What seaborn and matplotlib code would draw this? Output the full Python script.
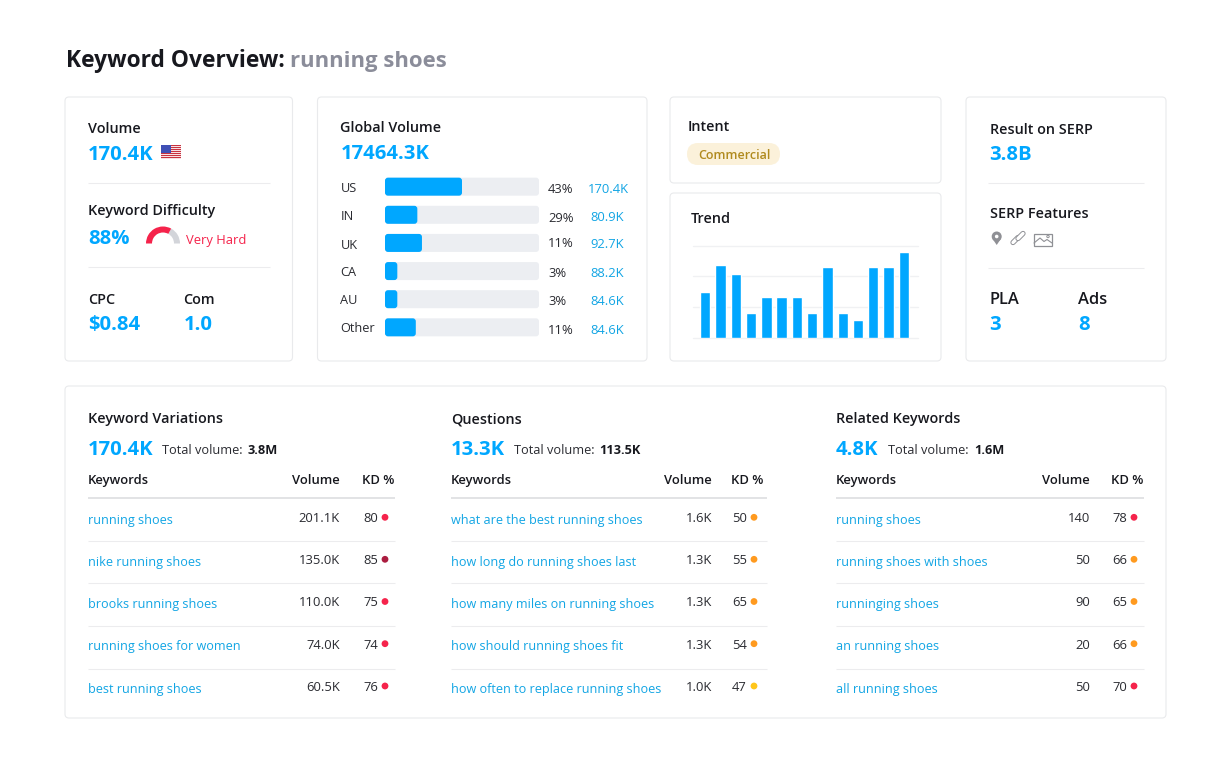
import matplotlib
matplotlib.use('Agg')
import matplotlib.pyplot as plt
from matplotlib.patches import FancyBboxPatch, Wedge, Rectangle, Circle, Polygon
import seaborn as sns
import pandas as pd

sns.set_theme(style='white')
plt.rcParams['font.family'] = ['Open Sans', 'DejaVu Sans']

# data
countries = ['US', 'IN', 'UK', 'CA', 'AU', 'Other']
country_fill = [50, 21, 24, 8, 8, 20]
country_track = [100, 100, 100, 100, 100, 100]
country_share = ['43%', '29%', '11%', '3%', '3%', '11%']
country_volume = ['170.4K', '80.9K', '92.7K', '88.2K', '84.6K', '84.6K']

trend_months = list(range(14))
trend_values = [50, 79, 69, 27, 44, 44, 44, 27, 77, 27, 19, 77, 77, 93]
trend_ticks = [0, 33.3, 66.6, 100]

gauge_fill = 66

var_keywords = ['running shoes', 'nike running shoes', 'brooks running shoes', 'running shoes for women', 'best running shoes']
var_volume = ['201.1K', '135.0K', '110.0K', '74.0K', '60.5K']
var_kd = [80, 85, 75, 74, 76]
q_keywords = ['what are the best running shoes', 'how long do running shoes last', 'how many miles on running shoes',
              'how should running shoes fit', 'how often to replace running shoes']
q_volume = ['1.6K', '1.3K', '1.3K', '1.3K', '1.0K']
q_kd = [50, 55, 65, 54, 47]
rel_keywords = ['running shoes', 'running shoes with shoes', 'runninging shoes', 'an running shoes', 'all running shoes']
rel_volume = ['140', '50', '90', '20', '50']
rel_kd = [78, 66, 65, 66, 70]

BLUE = '#00a7ff'
LINK = '#12a5e4'
DARK = '#17181e'
BODY = '#2a2b31'
LINE = '#ececee'


def px(size):
    return size * 0.72


def kd_color(kd):
    if kd >= 85:
        return '#ab1d40'
    if kd >= 70:
        return '#f5234b'
    if kd >= 50:
        return '#ff9a1f'
    return '#ffc61a'


fig = plt.figure(figsize=(12.18, 7.6), dpi=100, facecolor='white')
bg = fig.add_axes([0, 0, 1, 1])
bg.set_xlim(0, 1218)
bg.set_ylim(760, 0)
bg.axis('off')


def txt(x, y, s, size=14, color=BODY, weight='normal', ha='left'):
    # y is the middle of the capitals, baseline alignment keeps rows level
    return bg.text(x, y + 0.35 * size + 0.3, s, fontsize=px(size), color=color, fontweight=weight, ha=ha, va='baseline')


def card(x0, y0, x1, y1):
    bg.add_patch(FancyBboxPatch((x0 + 4, y0 + 4), x1 - x0 - 8, y1 - y0 - 8, boxstyle='round,pad=4,rounding_size=4',
                                fc='white', ec='#e9eaec', lw=0.8))


def hline(x0, x1, y, color=LINE, lw=0.75):
    bg.plot([x0, x1], [y, y], color=color, lw=lw, solid_capstyle='butt')


def inset(x0, y0, x1, y1):
    ax = fig.add_axes([x0 / 1218, 1 - y1 / 760, (x1 - x0) / 1218, (y1 - y0) / 760])
    ax.patch.set_alpha(0)
    return ax


def round_bars(ax, patches, color, x_scale, y_scale, radius):
    # swap seaborn's square bars for rounded ones, same extents
    for p in patches:
        x, y, w, h = p.get_x(), p.get_y(), p.get_width(), p.get_height()
        p.set_visible(False)
        r = radius / x_scale
        ax.add_patch(FancyBboxPatch((x + r, y + radius / y_scale), w - 2 * r, h - 2 * radius / y_scale,
                                    boxstyle=f'round,pad={r},rounding_size={r}',
                                    mutation_aspect=x_scale / y_scale, fc=color, ec='none'))


# title
txt(65.5, 59, 'Keyword Overview:', 22.7, DARK, 'bold')
txt(290, 59, 'running shoes', 22.2, '#8b8d9a', 'bold')

# cards
card(65, 97, 292.5, 361)
card(317.5, 97, 647, 361)
card(670, 97, 941, 183)
card(670, 193, 941, 361)
card(966, 97, 1166, 361)
card(65, 386, 1166, 718)

# first card
txt(88, 128, 'Volume', 14.4, DARK, 'semibold')
txt(88, 153, '170.4K', 20.3, BLUE, 'bold')
for i in range(7):
    bg.add_patch(Rectangle((161, 145 + i * 2), 20, 1, fc='#c8323f', ec='none'))
    bg.add_patch(Rectangle((161, 146 + i * 2), 20, 1, fc='#f8dfe2', ec='none'))
bg.add_patch(Rectangle((161, 145), 9.5, 7.5, fc='#3f4fb5', ec='none'))
hline(87.5, 270, 182.5)
txt(88, 210, 'Keyword Difficulty', 14.4, DARK, 'semibold')
txt(88, 237, '88%', 20.3, BLUE, 'bold')
split = 180 + 180 * gauge_fill / 100
bg.add_patch(Wedge((163, 243.5), 17, split, 360, width=6, fc='#d3d5da', ec='none'))
bg.add_patch(Wedge((163, 243.5), 17, 180, split, width=6, fc='#f5234b', ec='none'))
txt(186, 239, 'Very Hard', 13, '#f5234b')
hline(87.5, 270, 266.5)
txt(88, 299, 'CPC', 14.4, DARK, 'semibold')
txt(183.5, 299, 'Com', 14.4, DARK, 'semibold')
txt(88, 323, '$0.84', 20.3, BLUE, 'bold')
txt(183.5, 323, '1.0', 20.3, BLUE, 'bold')

# global volume
txt(340.5, 127, 'Global Volume', 14.4, DARK, 'semibold')
txt(340.5, 152, '17464.3K', 20.3, BLUE, 'bold')
ax = inset(385, 172.6, 539, 341.4)
df = pd.DataFrame({'country': countries, 'fill': country_fill, 'track': country_track})
sns.barplot(data=df, y='country', x='track', color='#eceef2', width=18 / 28.13, saturation=1, ax=ax)
n_track = len(ax.patches)
sns.barplot(data=df, y='country', x='fill', color=BLUE, width=18 / 28.13, saturation=1, ax=ax)
bars = list(ax.patches)
round_bars(ax, bars[:n_track], '#eceef2', 1.54, 28.13, 3)
round_bars(ax, bars[n_track:], BLUE, 1.54, 28.13, 3)
ax.set_xlim(0, 100)
ax.axis('off')
label_y = [187.7, 215, 244, 271.7, 299.7, 327.7]
share_y = [188.3, 216.7, 242.3, 271.7, 300, 329]
vol_y = [187.7, 216.3, 242.7, 271.7, 299.7, 328.7]
for i in range(len(countries)):
    txt(340.5, label_y[i], countries[i], 12.8)
    txt(548, share_y[i], country_share[i], 13)
    txt(628.7 if i == 0 else 623.7, vol_y[i], country_volume[i], 13, LINK, ha='right')

# intent
txt(687.5, 126, 'Intent', 14.4, DARK, 'semibold')
bg.add_patch(FancyBboxPatch((687, 143), 93, 22, boxstyle='round,pad=0,rounding_size=11', fc='#fbf1da', ec='none'))
txt(698, 154, 'Commercial', 12.5, '#b08a1e', 'semibold')

# trend
txt(691, 218, 'Trend', 14.4, DARK, 'semibold')
ax = inset(693, 245.7, 918, 337.7)
sns.barplot(x=trend_months, y=trend_values, color=BLUE, width=0.68, saturation=1, ax=ax, zorder=3)
ax.set_xlim(-0.805, 13.93)
ax.set_ylim(0, 100)
ax.set_yticks(trend_ticks)
ax.set_xticks([])
ax.set_xlabel('')
ax.set_ylabel('')
ax.set_yticklabels([])
ax.tick_params(length=0)
ax.grid(axis='y', color='#f0f1f3', lw=1)
ax.set_axisbelow(True)
for gl in ax.get_ygridlines():
    gl.set_clip_on(False)
sns.despine(ax=ax, left=True, bottom=True)

# serp card
txt(989.5, 129, 'Result on SERP', 14.4, DARK, 'semibold')
txt(989.5, 153, '3.8B', 20.3, BLUE, 'bold')
hline(988, 1144, 182.5)
txt(989.5, 213, 'SERP Features', 14.4, DARK, 'semibold')
hline(988, 1144, 267.5)
txt(989.5, 298, 'PLA', 16.5, DARK, 'semibold')
txt(1078, 298, 'Ads', 16.5, DARK, 'semibold')
txt(989.5, 323, '3', 20.3, BLUE, 'bold')
txt(1078, 323, '8', 20.3, BLUE, 'bold')
# icons
ICON = '#8f9095'
bg.add_patch(Circle((996.7, 236.5), 5, fc=ICON, ec='none'))
bg.add_patch(Polygon([(992.3, 238.5), (1001.1, 238.5), (996.7, 245)], fc=ICON, ec='none'))
bg.add_patch(Circle((996.7, 236.5), 1.8, fc='white', ec='none'))
for seg in [([1013, 1018], [242.5, 237.5]), ([1018, 1023], [238.5, 233.5])]:
    bg.plot(seg[0], seg[1], color=ICON, lw=3.8, solid_capstyle='round')
    bg.plot(seg[0], seg[1], color='white', lw=2.4, solid_capstyle='round')
bg.add_patch(Rectangle((1034, 233.5), 18, 12.5, fc='white', ec=ICON, lw=0.9))
bg.plot([1034, 1040, 1044, 1047, 1052], [243, 238, 241.5, 239.5, 243], color=ICON, lw=0.8)
bg.add_patch(Circle((1048, 236.5), 1.2, fc='white', ec=ICON, lw=0.7))


# tables
def table(x0, x1, title, big, total, keywords, volumes, kds, vol_right, kd_left, total_x, bold_x):
    txt(x0, 418, title, 14.4, DARK, 'semibold')
    txt(x0, 448, big, 20.3, BLUE, 'bold')
    txt(total_x, 449, 'Total volume:', 12.8, BODY)
    txt(bold_x, 449, total, 12.8, DARK, 'bold')
    txt(x0, 479, 'Keywords', 13, DARK, 'semibold')
    txt(vol_right, 479, 'Volume', 13, DARK, 'semibold', ha='right')
    txt(kd_left - 1, 479.5, 'KD %', 13, DARK, 'semibold')
    hline(x0 - 0.5, x1, 498, '#dfe0e3', 1.3)
    ys = [519.3, 561.3, 603.5, 645.7, 688]
    for y in [540.5, 583, 625.5, 669]:
        hline(x0 - 0.5, x1, y)
    for i, y in enumerate(ys):
        txt(x0, y, keywords[i], 12.6, LINK)
        txt(vol_right, y - 2, volumes[i], 13, BODY, ha='right')
        txt(kd_left, y - 2, str(kds[i]), 13, BODY)
        bg.add_patch(Circle((kd_left + 22, y - 2), 3.4, fc=kd_color(kds[i]), ec='none'))


table(88, 395, 'Keyword Variations', '170.4K', '3.8M', var_keywords, var_volume, var_kd, 340, 363, 162, 247)
table(451, 767, 'Questions', '13.3K', '113.5K', q_keywords, q_volume, q_kd, 712, 732, 514, 599.5)
table(836, 1144, 'Related Keywords', '4.8K', '1.6M', rel_keywords, rel_volume, rel_kd, 1090, 1112, 888, 974)

fig.savefig('out.png', dpi=100, facecolor='white')
